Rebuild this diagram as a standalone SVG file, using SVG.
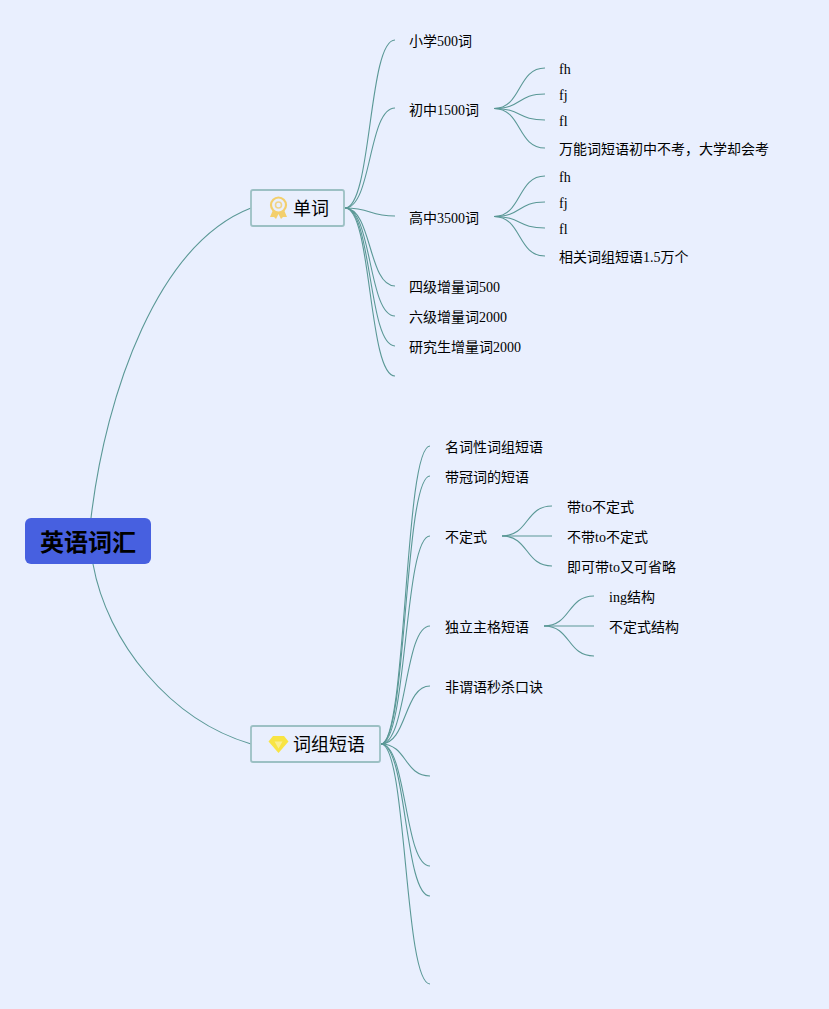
<svg xmlns="http://www.w3.org/2000/svg" width="829" height="1009" viewBox="0 0 829 1009">
<style>
text{font-family:"Liberation Serif","Noto Sans CJK SC",serif;font-size:14px;fill:#000;dominant-baseline:central}
.t{font-size:18px}
.r{font-size:24px;font-weight:bold}
#edges path{fill:none;stroke:#5a9896;stroke-width:1.1}
.box{fill:#e9effd;stroke:#9cc0c4;stroke-width:1.8}
</style>
<rect width="829" height="1009" fill="#e9effe"/>
<g id="edges">
<path d="M91 518C106 392 158 244 251 208"/>
<path d="M93 564C107 642 170 720 251 744"/>
<path d="M345 208C372 208 368 40 395 40"/>
<path d="M345 208C372 208 368 108 395 108"/>
<path d="M345 208C372 208 368 216 395 216"/>
<path d="M345 208C372 208 368 286 395 286"/>
<path d="M345 208C372 208 368 316 395 316"/>
<path d="M345 208C372 208 368 346 395 346"/>
<path d="M345 208C372 208 368 376 395 376"/>
<path d="M494 108.500C522 108.500 517 68 545 68"/>
<path d="M494 108.500C522 108.500 517 94 545 94"/>
<path d="M494 108.500C522 108.500 517 120 545 120"/>
<path d="M494 108.500C522 108.500 517 148 545 148"/>
<path d="M494 216.500C522 216.500 517 176 545 176"/>
<path d="M494 216.500C522 216.500 517 202 545 202"/>
<path d="M494 216.500C522 216.500 517 228 545 228"/>
<path d="M494 216.500C522 216.500 517 256 545 256"/>
<path d="M381 744C407 744 404 446 430 446"/>
<path d="M381 744C407 744 404 476 430 476"/>
<path d="M381 744C407 744 404 536 430 536"/>
<path d="M381 744C407 744 404 626 430 626"/>
<path d="M381 744C407 744 404 686 430 686"/>
<path d="M381 744C407 744 404 776 430 776"/>
<path d="M381 744C407 744 404 866 430 866"/>
<path d="M381 744C407 744 404 896 430 896"/>
<path d="M381 744C407 744 404 984 430 984"/>
<path d="M502 536C529 536 525 506 552 506"/>
<path d="M502 536H552"/>
<path d="M502 536C529 536 525 566 552 566"/>
<path d="M544 626C571 626 567 596 594 596"/>
<path d="M544 626H594"/>
<path d="M544 626C571 626 567 656 594 656"/>
</g>
<g id="root"><rect x="25" y="518" width="126" height="46" rx="6" fill="#4760e0"/><text class="r" x="88" y="543" text-anchor="middle">英语词汇</text></g>
<g id="n-danci"><rect class="box" x="251" y="190" width="93" height="36" rx="2"/>
<path d="M273 210l-3 7 4 0 2 2 2.500-5 2.500 5 2-2 4 0-3-7z" fill="#f3cf6c"/>
<circle cx="278.500" cy="205" r="7.500" fill="#e9effd" stroke="#f3cf6c" stroke-width="2.200"/><circle cx="278.500" cy="205" r="3" fill="none" stroke="#f0d488" stroke-width="1.600"/>
<text class="t" x="293" y="209">单词</text></g>
<g id="n-cizu"><rect class="box" x="251" y="726" width="129" height="36" rx="2"/>
<path d="M273 736h11l4.500 5.500-10 11.500-10-11.500z" fill="#f8e443"/><path d="M274.500 741.500h8l-4 7z" fill="#faee90"/>
<text class="t" x="293" y="745">词组短语</text></g>
<g id="c1"><text x="409" y="41">小学500词</text></g>
<g id="c2"><text x="409" y="110">初中1500词</text></g>
<g id="c2a"><text x="559" y="69">fh</text></g>
<g id="c2b"><text x="559" y="95">fj</text></g>
<g id="c2c"><text x="559" y="121">fl</text></g>
<g id="c2d"><text x="559" y="149">万能词短语初中不考，大学却会考</text></g>
<g id="c3"><text x="409" y="218">高中3500词</text></g>
<g id="c3a"><text x="559" y="177">fh</text></g>
<g id="c3b"><text x="559" y="203">fj</text></g>
<g id="c3c"><text x="559" y="229">fl</text></g>
<g id="c3d"><text x="559" y="257">相关词组短语1.5万个</text></g>
<g id="c4"><text x="409" y="287">四级增量词500</text></g>
<g id="c5"><text x="409" y="317">六级增量词2000</text></g>
<g id="c6"><text x="409" y="347">研究生增量词2000</text></g>
<g id="d1"><text x="445" y="447">名词性词组短语</text></g>
<g id="d2"><text x="445" y="477">带冠词的短语</text></g>
<g id="d3"><text x="445" y="537">不定式</text></g>
<g id="d3a"><text x="567" y="507">带to不定式</text></g>
<g id="d3b"><text x="567" y="537">不带to不定式</text></g>
<g id="d3c"><text x="567" y="567">即可带to又可省略</text></g>
<g id="d4"><text x="445" y="627">独立主格短语</text></g>
<g id="d4a"><text x="609" y="597">ing结构</text></g>
<g id="d4b"><text x="609" y="627">不定式结构</text></g>
<g id="d5"><text x="445" y="687">非谓语秒杀口诀</text></g>
</svg>
